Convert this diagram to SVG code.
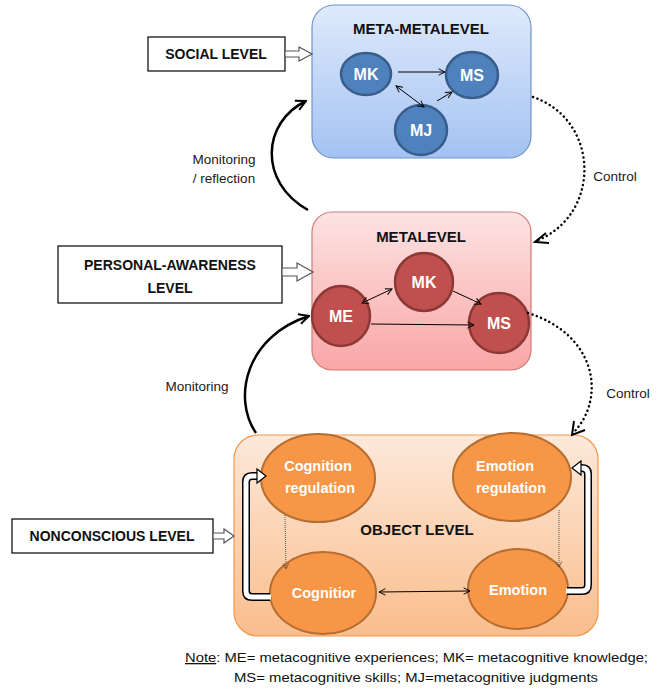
<svg xmlns="http://www.w3.org/2000/svg" width="662" height="700" viewBox="0 0 662 700">
<defs>
<linearGradient id="gBlue" x1="0" y1="0" x2="0" y2="1"><stop offset="0" stop-color="#dfeafc"/><stop offset="1" stop-color="#a3c2f2"/></linearGradient>
<linearGradient id="gRed" x1="0" y1="0" x2="0" y2="1"><stop offset="0" stop-color="#fde3e3"/><stop offset="1" stop-color="#f9a6a6"/></linearGradient>
<linearGradient id="gOr" x1="0" y1="0" x2="0" y2="1"><stop offset="0" stop-color="#fde9da"/><stop offset="1" stop-color="#fabd8c"/></linearGradient>
<marker id="open" viewBox="0 0 10 10" refX="9" refY="5" markerWidth="8" markerHeight="8" orient="auto-start-reverse" markerUnits="userSpaceOnUse"><path d="M1,1 L9,5 L1,9" fill="none" stroke="#000" stroke-width="1.2"/></marker>
<marker id="big" viewBox="0 0 10 10" refX="9" refY="5" markerWidth="5" markerHeight="5" orient="auto" markerUnits="strokeWidth"><path d="M1,1 L9,5 L1,9" fill="none" stroke="#000" stroke-width="1.6"/></marker>
<marker id="small" viewBox="0 0 10 10" refX="9" refY="5" markerWidth="7" markerHeight="7" orient="auto" markerUnits="userSpaceOnUse"><path d="M1,1 L9,5 L1,9" fill="none" stroke="#444" stroke-width="1"/></marker>
</defs>
<style>
.t{font-family:"Liberation Sans",Arial,sans-serif}
.title{font-weight:bold;font-size:15px;fill:#111;text-anchor:middle}
.nt{font-weight:bold;font-size:16px;fill:#fff;text-anchor:middle}
.ot{font-weight:bold;font-size:14.5px;fill:#fff;text-anchor:middle}
.lbl{font-size:13.5px;fill:#1a1a1a;text-anchor:middle}
.lv{font-weight:bold;font-size:14px;fill:#111;text-anchor:middle}
.lvbox{fill:#fff;stroke:#000;stroke-width:1.2}
.hollow{fill:#fff;stroke:#555;stroke-width:1.2}
.bc{fill:#4f81bd;stroke:#385d8a;stroke-width:2.5}
.rc{fill:#c0504d;stroke:#8c3836;stroke-width:2.5}
.oc{fill:#f79646;stroke:#b66d31;stroke-width:2}
.thin{fill:none;stroke:#000;stroke-width:1}
.curve{fill:none;stroke:#000;stroke-width:2.5}
.dot{fill:none;stroke:#000;stroke-width:2.5;stroke-dasharray:0.1 4.5;stroke-linecap:round}
</style>

<g id="meta-metalevel">
<rect x="312" y="5" width="219" height="153" rx="22" fill="url(#gBlue)" stroke="#6f93c7" stroke-width="1.2"/>
<text class="t title" x="421" y="34">META-METALEVEL</text>
</g>
<g id="mm-mk"><ellipse class="bc" cx="366" cy="74" rx="25" ry="21"/><text class="t nt" x="366" y="80">MK</text></g>
<g id="mm-ms"><ellipse class="bc" cx="472" cy="75" rx="26" ry="23"/><text class="t nt" x="472" y="81">MS</text></g>
<g id="mm-mj"><ellipse class="bc" cx="421" cy="130" rx="26" ry="25"/><text class="t nt" x="421" y="136">MJ</text></g>

<g id="metalevel">
<rect x="312" y="212" width="219" height="158" rx="20" fill="url(#gRed)" stroke="#d07a78" stroke-width="1.2"/>
<text class="t title" x="421" y="242">METALEVEL</text>
</g>
<g id="m-mk"><circle class="rc" cx="424" cy="282" r="29"/><text class="t nt" x="424" y="288">MK</text></g>
<g id="m-me"><ellipse class="rc" cx="341" cy="316" rx="29" ry="30"/><text class="t nt" x="341" y="322">ME</text></g>
<g id="m-ms"><circle class="rc" cx="499" cy="323" r="30"/><text class="t nt" x="499" y="329">MS</text></g>

<g id="object-level">
<rect x="234" y="435" width="364" height="201" rx="24" fill="url(#gOr)" stroke="#f79646" stroke-width="1.2"/>
<text class="t title" x="417" y="535">OBJECT LEVEL</text>
</g>
<g id="cognition-regulation"><ellipse class="oc" cx="318" cy="478" rx="57" ry="44"/><text class="t ot" x="318" y="471">Cognition</text><text class="t ot" x="320" y="493">regulation</text></g>
<g id="emotion-regulation"><ellipse class="oc" cx="512" cy="477" rx="59" ry="44"/><text class="t ot" x="505" y="471">Emotion</text><text class="t ot" x="511" y="493">regulation</text></g>
<g id="cognitior"><ellipse class="oc" cx="323" cy="593" rx="53" ry="41"/><text class="t ot" x="324" y="598">Cognitior</text></g>
<g id="emotion"><ellipse class="oc" cx="518" cy="589" rx="50" ry="40"/><text class="t ot" x="518" y="595">Emotion</text></g>

<g id="social-level"><rect class="lvbox" x="148" y="37" width="137" height="34"/><text class="t lv" x="216" y="59">SOCIAL LEVEL</text></g>
<g id="personal-awareness-level"><rect class="lvbox" x="58" y="246" width="224" height="57"/><text class="t lv" x="170" y="270">PERSONAL-AWARENESS</text><text class="t lv" x="170" y="293">LEVEL</text></g>
<g id="nonconscious-level"><rect class="lvbox" x="12" y="519" width="201" height="34"/><text class="t lv" x="112" y="541">NONCONSCIOUS LEVEL</text></g>

<g id="connectors">
<polygon class="hollow" points="285,51 299,51 299,47 312,54 299,61 299,57 285,57"/>
<polygon class="hollow" points="282,268 297,268 297,263 313,272 297,281 297,276 282,276"/>
<polygon class="hollow" points="213,533 224,533 224,529 234,536 224,543 224,539 213,539"/>

<line class="thin" x1="398" y1="72" x2="445" y2="72" marker-end="url(#open)"/>
<line class="thin" x1="396" y1="86" x2="424" y2="107" marker-start="url(#open)" marker-end="url(#open)"/>
<line class="thin" x1="437" y1="101" x2="452" y2="92" marker-end="url(#open)"/>

<line class="thin" x1="362" y1="303" x2="392" y2="289" marker-start="url(#open)" marker-end="url(#open)"/>
<line class="thin" x1="453" y1="291" x2="481" y2="304" marker-end="url(#open)"/>
<line class="thin" x1="371" y1="324" x2="474" y2="325" marker-end="url(#open)"/>

<line x1="285" y1="515" x2="286" y2="569" stroke="#555" stroke-width="1" stroke-dasharray="1 1" marker-end="url(#small)"/>
<line x1="559" y1="510" x2="559" y2="567" stroke="#555" stroke-width="1" stroke-dasharray="1 1" marker-end="url(#small)"/>
<line class="thin" x1="379" y1="592" x2="470" y2="591" marker-start="url(#open)" marker-end="url(#open)"/>

<path d="M270,597 L252,597 Q246,597 246,591 L246,482 Q246,476 252,476 L258,476" fill="none" stroke="#000" stroke-width="8"/>
<path d="M271,597 L252,597 Q246,597 246,591 L246,482 Q246,476 252,476 L259,476" fill="none" stroke="#fff" stroke-width="5"/>
<polygon points="257,469 266,476 257,483" fill="#fff" stroke="#000" stroke-width="1.2"/>
<path d="M567,591 L582,591 Q588,591 588,585 L588,474 Q588,468 582,468 L580,468" fill="none" stroke="#000" stroke-width="8"/>
<path d="M566,591 L582,591 Q588,591 588,585 L588,474 Q588,468 582,468 L579,468" fill="none" stroke="#fff" stroke-width="5"/>
<polygon points="581,461 572,468 581,475" fill="#fff" stroke="#000" stroke-width="1.2"/>

<path class="curve" d="M308,210 C258,182 262,122 306,101" marker-end="url(#big)"/>
<path class="curve" d="M256,433 C232,398 246,336 309,316" marker-end="url(#big)"/>
<path class="dot" d="M533,97 C600,120 602,215 536,241"/>
<path d="M546,233 L535,242 L549,243" fill="none" stroke="#000" stroke-width="2"/>
<path class="dot" d="M528,313 C598,335 606,400 573,433"/>
<path d="M574,421 L572,435 L585,430" fill="none" stroke="#000" stroke-width="2"/>
</g>

<g id="labels">
<text class="t lbl" x="224" y="164">Monitoring</text>
<text class="t lbl" x="224" y="183">/ reflection</text>
<text class="t lbl" x="197" y="391">Monitoring</text>
<text class="t lbl" x="615" y="181">Control</text>
<text class="t lbl" x="628" y="398">Control</text>
<text class="t" font-size="13" fill="#111" x="185" y="662" textLength="463" lengthAdjust="spacingAndGlyphs"><tspan text-decoration="underline">Note</tspan>: ME= metacognitive experiences; MK= metacognitive knowledge;</text>
<text class="t" font-size="13" fill="#111" x="234" y="682" textLength="364" lengthAdjust="spacingAndGlyphs">MS= metacognitive skills; MJ=metacognitive judgments</text>
</g>
</svg>
